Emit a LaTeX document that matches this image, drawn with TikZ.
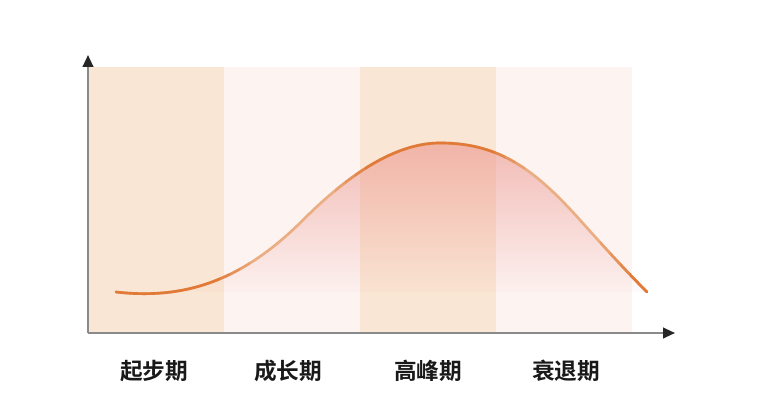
\documentclass[tikz,border=0pt]{standalone}
\usepackage{fontspec}
\newfontfamily\cjk{Noto Sans CJK SC}[BoldFont={Noto Sans CJK SC Bold}]
\usetikzlibrary{arrows.meta,fadings}
\definecolor{bandA}{HTML}{FAE6D4}
\definecolor{bandB}{HTML}{FDF4F2}
\definecolor{curvedark}{HTML}{E07A36}
\definecolor{curvelight}{HTML}{EBAD82}
\definecolor{fillc}{HTML}{EA8C84}
\definecolor{axisc}{HTML}{8A8A8A}
\tikzfading[name=fadedown, top color=transparent!45, bottom color=transparent!100]
\tikzset{
  bandpeach/.style={fill=bandA, draw=none},
  bandpink/.style={fill=bandB, draw=none},
  axisline/.style={draw=axisc, line width=1.5pt, -{Triangle[length=9pt,width=8pt,fill=black!85,color=black!85]}},
  curveline/.style={line width=2pt, line cap=round},
  stage/.style={font=\cjk\bfseries\fontsize{17}{20}\selectfont, text=black!90, anchor=center}
}
\def\curvepath{(116,292) .. controls (186,300) and (243,280) .. (303,220)
  .. controls (348,175) and (395,143) .. (440,143)
  .. controls (500,143) and (535,170) .. (580,220)
  .. controls (605,248) and (625,270) .. (647,292)}
\begin{document}
\begin{tikzpicture}[x=0.75pt,y=-0.75pt]
\useasboundingbox (0,0) rectangle (760,416);
\fill[white] (0,0) rectangle (760,416);
% bands
\path[bandpeach] (88,67) rectangle (224,333);
\path[bandpink]  (224,67) rectangle (360,333);
\path[bandpeach] (360,67) rectangle (496,333);
\path[bandpink]  (496,67) rectangle (632,333);
% fill under curve
\fill[fillc, path fading=fadedown] \curvepath -- (647,292) -- (116,292) -- cycle;
% curve: light base
\draw[curveline, draw=curvelight] \curvepath;
% darker overlays with stepped opacity
\foreach \xa/\xb/\op in {0/220/1, 220/230/0.75, 230/240/0.5, 240/250/0.25,
  335/345/0.25, 345/355/0.5, 355/365/0.75, 365/495/1, 495/505/0.75, 505/515/0.5, 515/525/0.25,
  600/610/0.25, 610/620/0.5, 620/630/0.75, 630/760/1}{
  \begin{scope}
    \clip (\xa,0) rectangle (\xb,416);
    \draw[curveline, draw=curvedark, draw opacity=\op] \curvepath;
  \end{scope}
}
% axes
\coordinate (o) at (88,333);
\coordinate (ytop) at (88,55);
\coordinate (xend) at (675,333);
\draw[axisline] (o) -- (ytop);
\draw[axisline] (o) -- (xend);
% labels
\node[stage] (s1) at (154,371) {起步期};
\node[stage] (s2) at (288,371) {成长期};
\node[stage] (s3) at (428,371) {高峰期};
\node[stage] (s4) at (566,371) {衰退期};
\end{tikzpicture}
\end{document}
